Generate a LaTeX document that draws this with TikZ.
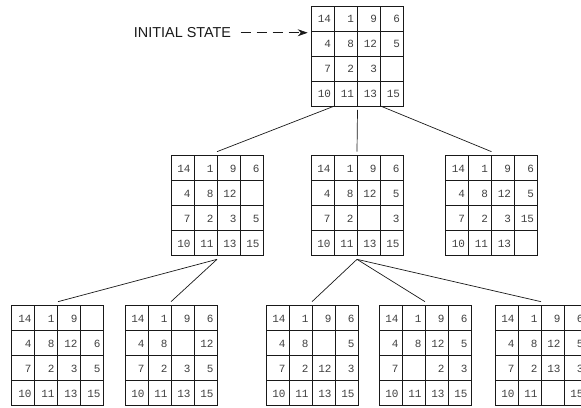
\documentclass[tikz,border=0pt]{standalone}
\usepackage{fontspec}
\setsansfont{Liberation Sans}
\setmonofont{Liberation Mono}
\usetikzlibrary{matrix,arrows.meta}

\begin{document}
\begin{tikzpicture}[x=1pt,y=-1pt]
\tikzstyle{board}=[matrix of nodes,nodes in empty cells,outer sep=0pt,
  column sep=-1pt,row sep=-1pt,
  nodes={draw=black!90,line width=1pt,text width=16pt,inner xsep=3.5pt,
    inner ysep=0pt,align=right,anchor=center,text height=8pt,text depth=0pt,
    minimum height=25pt,text=black!75,font=\ttfamily\fontsize{11}{12}\selectfont}];
\tikzstyle{move}=[line width=0.7pt,draw=black!90];

\useasboundingbox (0,0) rectangle (581,407);
\clip (0,0) rectangle (581,407);

% start position
\matrix[board] (s0) at (357.5,56) {
14 & 1 & 9 & 6 \\
4 & 8 & 12 & 5 \\
7 & 2 & 3 & \\
10 & 11 & 13 & 15 \\
};

% first moves
\matrix[board] (m1) at (217,205.5) {
14 & 1 & 9 & 6 \\
4 & 8 & 12 & \\
7 & 2 & 3 & 5 \\
10 & 11 & 13 & 15 \\
};
\matrix[board] (m2) at (357,205.5) {
14 & 1 & 9 & 6 \\
4 & 8 & 12 & 5 \\
7 & 2 & & 3 \\
10 & 11 & 13 & 15 \\
};
\matrix[board] (m3) at (491.5,205.5) {
14 & 1 & 9 & 6 \\
4 & 8 & 12 & 5 \\
7 & 2 & 3 & 15 \\
10 & 11 & 13 & \\
};

% second moves
\matrix[board] (b1) at (58,355.5) {
14 & 1 & 9 & \\
4 & 8 & 12 & 6 \\
7 & 2 & 3 & 5 \\
10 & 11 & 13 & 15 \\
};
\matrix[board] (b2) at (171,355.5) {
14 & 1 & 9 & 6 \\
4 & 8 & & 12 \\
7 & 2 & 3 & 5 \\
10 & 11 & 13 & 15 \\
};
\matrix[board] (b3) at (312,355.5) {
14 & 1 & 9 & 6 \\
4 & 8 & & 5 \\
7 & 2 & 12 & 3 \\
10 & 11 & 13 & 15 \\
};
\matrix[board] (b4) at (425,355.5) {
14 & 1 & 9 & 6 \\
4 & 8 & 12 & 5 \\
7 & & 2 & 3 \\
10 & 11 & 13 & 15 \\
};
\matrix[board] (b5) at (541,355.5) {
14 & 1 & 9 & 6 \\
4 & 8 & 12 & 5 \\
7 & 2 & 13 & 3 \\
10 & 11 & & 15 \\
};

\draw[move] (s0-4-1.south east) -- (m1.north);
\draw[move] (s0.south) -- (m2.north);
\draw[move] (s0-4-3.south east) -- (m3.north);
\draw[move] (m1.south) -- (b1.north);
\draw[move] (m1.south) -- (b2.north);
\draw[move] (m2.south) -- (b3.north);
\draw[move] (m2.south) -- (b4.north);
\draw[move] (m2.south) -- (b5.north);

\node[font=\sffamily\fontsize{14.4}{16}\selectfont,text=black!90,anchor=base] (init) at (182.5,37.7) {INITIAL STATE};
\draw[move,dash pattern=on 10pt off 6pt,shorten <=6pt,-{Stealth[length=10pt,width=7pt]}] (init.east) -- (init.east -| s0.west);
\end{tikzpicture}
\end{document}
